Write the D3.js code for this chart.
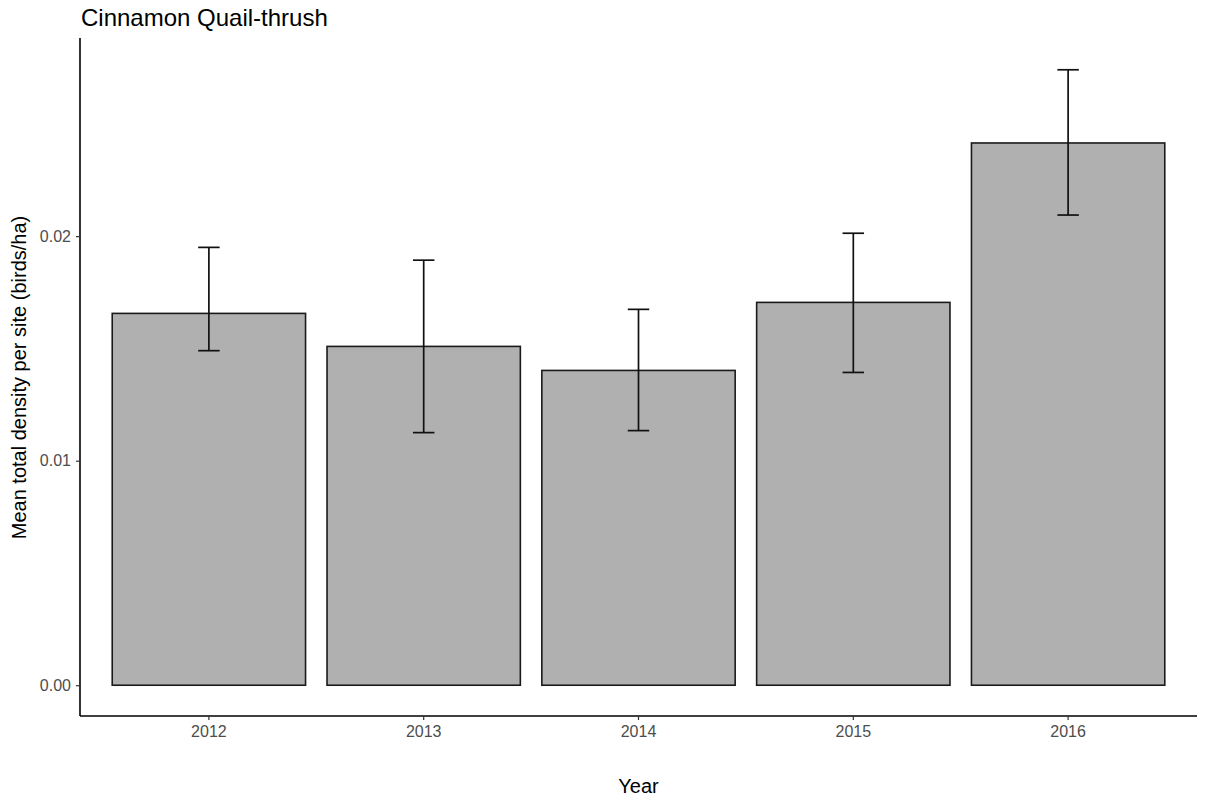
<!DOCTYPE html>
<html><head><meta charset="utf-8">
<script src="https://cdn.jsdelivr.net/npm/d3@7"></script>
<style>body{margin:0;background:#fff}</style>
</head><body>
<svg id="c" width="1205" height="801"></svg>
<script>
const years = ["2012","2013","2014","2015","2016"];
const means = [0.01656, 0.01509, 0.01402, 0.01705, 0.02415];
const upper = [0.0195, 0.01893, 0.01674, 0.02013, 0.02741];
const lower = [0.0149, 0.01125, 0.01134, 0.01393, 0.02094];
const yTicks = [0, 0.01, 0.02];

const svg = d3.select("#c");
const L = 80, R = 1197, T = 39, B = 716;
const font = "'Liberation Sans', Arial, sans-serif";

const ymax = d3.max(upper);
const y = d3.scaleLinear().domain([-0.05*ymax, 1.05*ymax]).range([B, T]);
const n = years.length;
const step = (R - L) / (n - 1 + 1.2);
const x = d => L + step*(0.6 + years.indexOf(d));
const bw = step*0.9;

const g = svg.append("g");
years.forEach((yr,i)=>{
  g.append("rect").attr("x", x(yr)-bw/2).attr("y", y(means[i]))
   .attr("width", bw).attr("height", y(0)-y(means[i]))
   .attr("fill","#b0b0b0").attr("stroke","#1a1a1a").attr("stroke-width",1.6);
});
years.forEach((yr,i)=>{
  const cx = x(yr), cw = step*0.1/2;
  const e = g.append("g").attr("stroke","#111").attr("stroke-width",1.7).attr("fill","none");
  e.append("line").attr("x1",cx).attr("x2",cx).attr("y1",y(upper[i])).attr("y2",y(lower[i]));
  e.append("line").attr("x1",cx-cw).attr("x2",cx+cw).attr("y1",y(upper[i])).attr("y2",y(upper[i]));
  e.append("line").attr("x1",cx-cw).attr("x2",cx+cw).attr("y1",y(lower[i])).attr("y2",y(lower[i]));
});

// axes
const yAxis = d3.axisLeft(y).tickValues(yTicks).tickFormat(d3.format(".2f")).tickSize(4).tickPadding(5);
const ya = svg.append("g").attr("transform",`translate(${L},0)`).call(yAxis);
ya.select(".domain").attr("d",`M0,${T-1}V${B}`).attr("stroke","#000").attr("stroke-width",1.6);
ya.selectAll(".tick line").attr("stroke","#333").attr("stroke-width",1.2);
ya.selectAll(".tick text").attr("fill","#4d4d4d").style("font-family",font).style("font-size","16px");

const xb = d3.scaleBand().domain(years).range([L+step*0.1, R-step*0.1]);
const xAxis = d3.axisBottom(xb).tickSize(4).tickPadding(6).tickSizeOuter(0);
const xa = svg.append("g").attr("transform",`translate(0,${B})`).call(xAxis);
xa.select(".domain").attr("d",`M${L},0H${R}`).attr("stroke","#000").attr("stroke-width",1.6);
xa.selectAll(".tick line").attr("stroke","#333").attr("stroke-width",1.2);
xa.selectAll(".tick text").attr("fill","#4d4d4d").style("font-family",font).style("font-size","16px");

svg.append("text").attr("x",(L+R)/2).attr("y",793).attr("text-anchor","middle")
  .style("font-family",font).style("font-size","20px").attr("fill","#000").text("Year");
svg.append("text").attr("transform",`translate(26,${(T+B)/2}) rotate(-90)`).attr("text-anchor","middle")
  .style("font-family",font).style("font-size","20px").attr("fill","#000")
  .text("Mean total density per site (birds/ha)");
svg.append("text").attr("x",81).attr("y",26)
  .style("font-family",font).style("font-size","24px").attr("fill","#000").text("Cinnamon Quail-thrush");
</script>
</body></html>
